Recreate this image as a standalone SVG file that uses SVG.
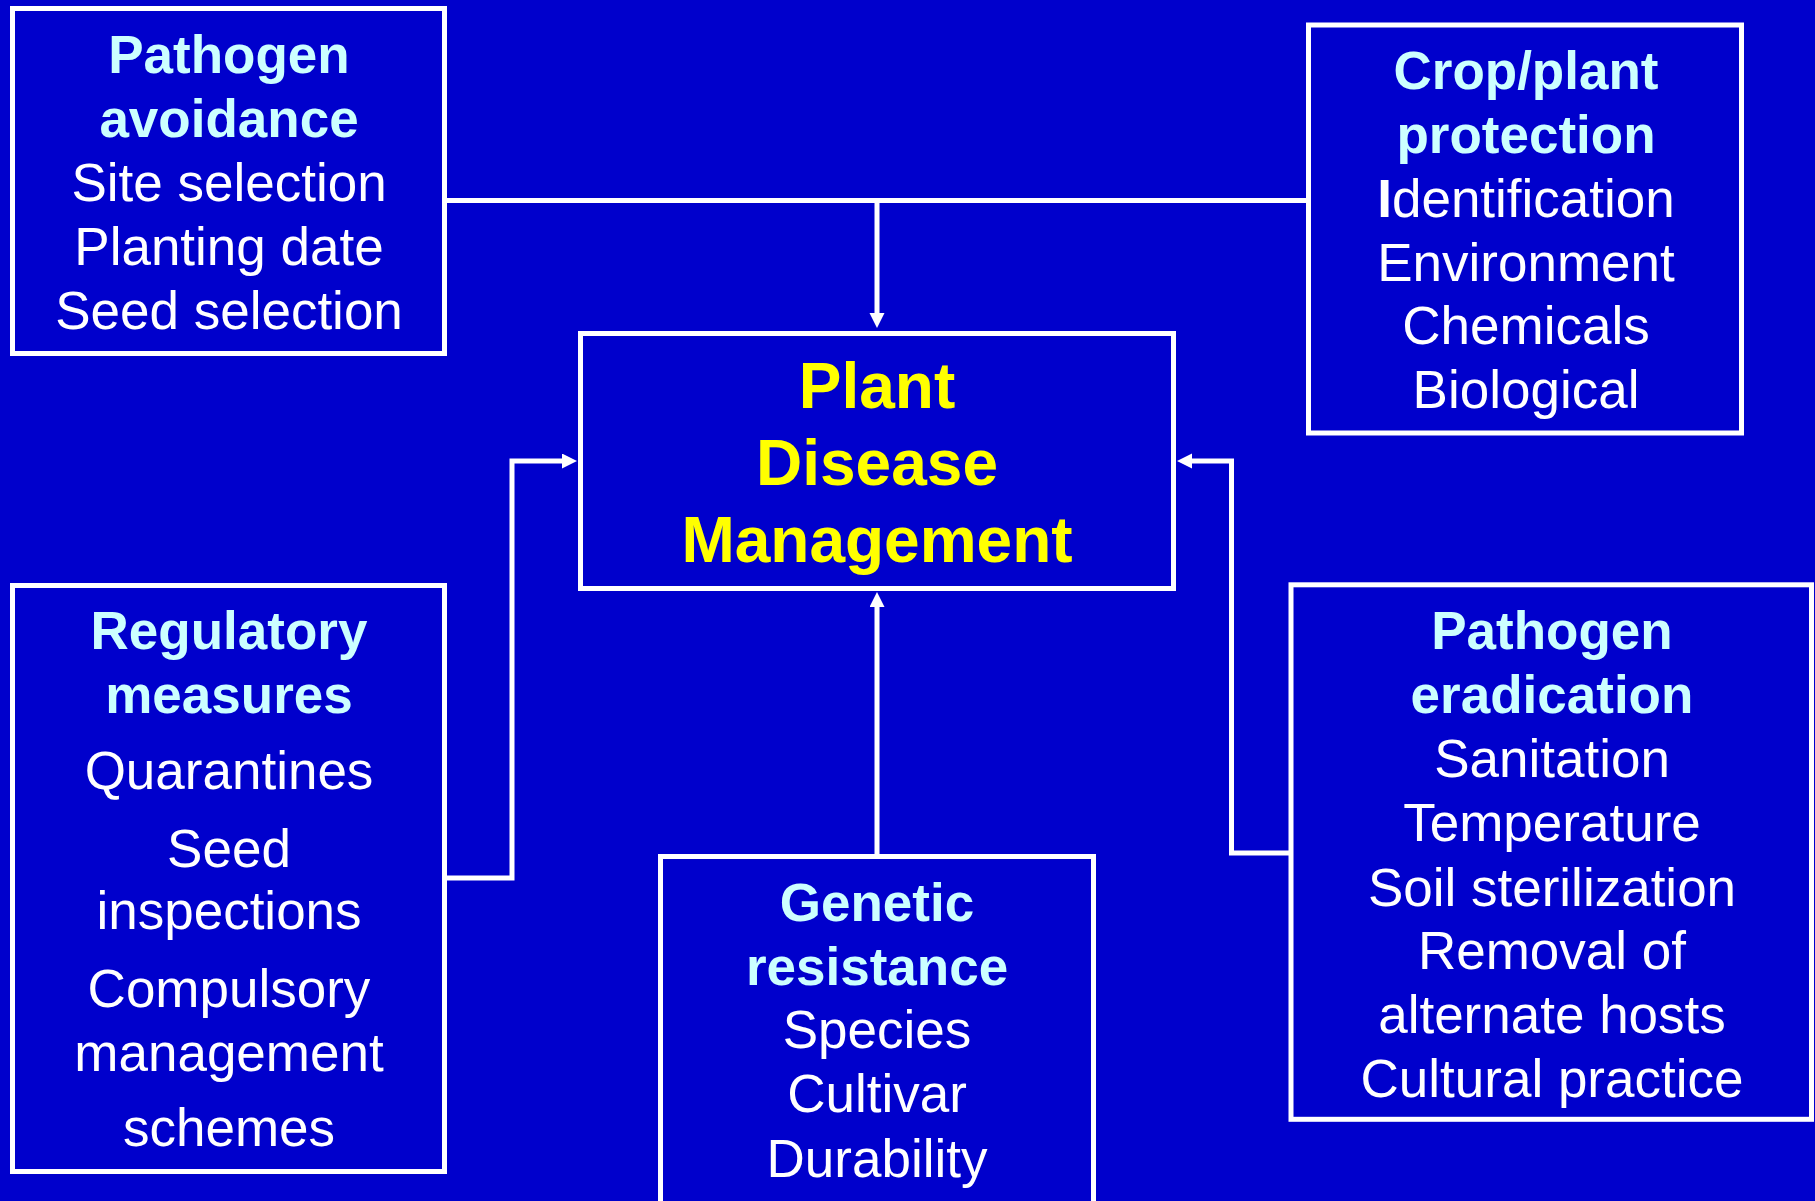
<svg xmlns="http://www.w3.org/2000/svg" width="1815" height="1201" viewBox="0 0 1815 1201">
<style>
.box{fill:#0000CC;stroke:#FFFFFF;stroke-width:5}
.t{font-family:"Liberation Sans",Arial,sans-serif;font-size:53px;text-anchor:middle}
.h{font-weight:bold;fill:#CCFFFF}
.b{fill:#FFFFFF}
.c{font-family:"Liberation Sans",Arial,sans-serif;font-size:64px;font-weight:bold;fill:#FFFF00;text-anchor:middle}
.ln{fill:none;stroke:#FFFFFF;stroke-width:5;marker-end:url(#ah)}
.ln0{fill:none;stroke:#FFFFFF;stroke-width:5}
</style>
<defs>
<marker id="ah" markerUnits="userSpaceOnUse" markerWidth="16" markerHeight="16" refX="0" refY="7.5" orient="auto" viewBox="0 0 16 16">
<path d="M0,0 L15,7.5 L0,15 z" fill="#FFFFFF"/>
</marker>
</defs>
<rect width="1815" height="1201" fill="#0000CC"/>
<g id="connectors">
<path class="ln0" d="M447,200.5 H1306"/>
<path class="ln" d="M877,200.5 V313"/>
<path class="ln" d="M447,878 H512 V461 H562"/>
<path class="ln" d="M1289,853 H1231.5 V461 H1192"/>
<path class="ln" d="M877,855 V607"/>
</g>
<g id="avoidance">
<rect class="box" x="12.5" y="8.5" width="432" height="345"/>
<text class="t h" x="229" y="73">Pathogen</text>
<text class="t h" x="229" y="137">avoidance</text>
<text class="t b" x="229" y="201">Site selection</text>
<text class="t b" x="229" y="265">Planting date</text>
<text class="t b" x="229" y="329">Seed selection</text>
</g>
<g id="protection">
<rect class="box" x="1308.5" y="25" width="433" height="408"/>
<text class="t h" x="1526" y="89">Crop/plant</text>
<text class="t h" x="1526" y="153">protection</text>
<text class="t b" x="1526" y="217"><tspan font-weight="bold">I</tspan>dentification</text>
<text class="t b" x="1526" y="281">Environment</text>
<text class="t b" x="1526" y="344">Chemicals</text>
<text class="t b" x="1526" y="408">Biological</text>
</g>
<g id="center">
<rect class="box" x="580.5" y="333.5" width="593" height="255"/>
<text class="c" x="877" y="408">Plant</text>
<text class="c" x="877" y="485">Disease</text>
<text class="c" x="877" y="562">Management</text>
</g>
<g id="regulatory">
<rect class="box" x="12.5" y="585.5" width="432" height="586"/>
<text class="t h" x="229" y="649">Regulatory</text>
<text class="t h" x="229" y="713">measures</text>
<text class="t b" x="229" y="789">Quarantines</text>
<text class="t b" x="229" y="867">Seed</text>
<text class="t b" x="229" y="929">inspections</text>
<text class="t b" x="229" y="1007">Compulsory</text>
<text class="t b" x="229" y="1071">management</text>
<text class="t b" x="229" y="1146">schemes</text>
</g>
<g id="genetic">
<rect class="box" x="660.5" y="856.5" width="433" height="400"/>
<text class="t h" x="877" y="921">Genetic</text>
<text class="t h" x="877" y="985">resistance</text>
<text class="t b" x="877" y="1048">Species</text>
<text class="t b" x="877" y="1112">Cultivar</text>
<text class="t b" x="877" y="1177">Durability</text>
</g>
<g id="eradication">
<rect class="box" x="1291" y="584.8" width="520.5" height="534.5"/>
<text class="t h" x="1552" y="649">Pathogen</text>
<text class="t h" x="1552" y="713">eradication</text>
<text class="t b" x="1552" y="777">Sanitation</text>
<text class="t b" x="1552" y="841">Temperature</text>
<text class="t b" x="1552" y="906">Soil sterilization</text>
<text class="t b" x="1552" y="969">Removal of</text>
<text class="t b" x="1552" y="1033">alternate hosts</text>
<text class="t b" x="1552" y="1097">Cultural practice</text>
</g>
</svg>
